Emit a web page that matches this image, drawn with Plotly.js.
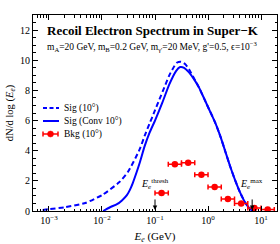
<!DOCTYPE html>
<html><head><meta charset="utf-8">
<script src="https://cdn.plot.ly/plotly-3.0.1.min.js"></script>
<style>html,body{margin:0;padding:0;background:#fff;}#chart{width:280px;height:244px;}</style>
</head><body><div id="chart"></div>
<script>
// Signal (10°) dashed
const sigE = [0.00076, 0.001, 0.002, 0.005, 0.0105, 0.021, 0.031, 0.0515, 0.064, 0.079, 0.098, 0.121, 0.150, 0.186, 0.231, 0.262, 0.311, 0.369, 0.438, 0.543, 0.673, 0.834, 1.03, 1.39, 1.73, 2.14, 2.65, 3.28, 4.06, 5.04, 5.98, 7.1];
const sigVal = [0.07, 0.12, 0.25, 0.55, 1.1, 1.9, 2.6, 4.1, 5.0, 5.8, 6.6, 7.4, 8.2, 9.0, 9.6, 9.85, 9.9, 9.75, 9.4, 8.8, 8.2, 7.5, 6.8, 5.8, 4.9, 3.9, 2.9, 2.0, 1.2, 0.55, 0.2, 0.0];
// Signal convolved (10°) solid
const convE = [0.0105, 0.0142, 0.0192, 0.0238, 0.0295, 0.0336, 0.0381, 0.0453, 0.0515, 0.0638, 0.079, 0.1, 0.138, 0.186, 0.251, 0.298, 0.354, 0.438, 0.543, 0.673, 0.834, 1.03, 1.39, 1.73, 2.14, 2.65, 3.28, 4.06, 5.04, 5.98, 7.1];
const convVal = [0.0, 0.25, 0.45, 0.7, 1.05, 1.4, 1.85, 2.6, 3.2, 4.3, 5.2, 6.0, 7.2, 8.4, 9.3, 9.55, 9.5, 9.2, 8.75, 8.2, 7.5, 6.8, 5.8, 4.9, 3.9, 2.9, 2.0, 1.2, 0.55, 0.2, 0.0];
// Background (10°) binned
const bkgE = [0.133, 0.237, 0.422, 0.750, 1.334, 2.371, 4.217, 7.499, 13.34];
const bkgLow = [0.1, 0.178, 0.316, 0.562, 1.0, 1.778, 3.162, 5.623, 10];
const bkgHigh = [0.178, 0.316, 0.562, 1.0, 1.778, 3.162, 5.623, 10, 17.78];
const bkgVal = [1.2, 3.1, 3.2, 2.4, 1.6, 0.8, 0.5, 0.2, 0.1];
const xTickVals = [0.001, 0.01, 0.1, 1, 10];
const xTickText = ['10<sup>−3</sup>', '10<sup>−2</sup>', '10<sup>−1</sup>', '10<sup>0</sup>', '10<sup>1</sup>'];
const eThresh = 0.1;
const eMax = 6.8;

const BLUE = '#0000ff', RED = '#ff0000';
const FONT = 'Liberation Serif, Times New Roman, serif';

const traces = [
  {x: sigE, y: sigVal, type: 'scatter', mode: 'lines', line: {color: BLUE, width: 2, dash: '5px,3px', shape: 'spline', smoothing: 0.6}, hoverinfo: 'skip'},
  {x: convE, y: convVal, type: 'scatter', mode: 'lines', line: {color: BLUE, width: 2, shape: 'spline', smoothing: 0.6}, hoverinfo: 'skip'},
  {x: bkgE, y: bkgVal, type: 'scatter', mode: 'markers',
   marker: {color: RED, size: 6.5},
   error_x: {type: 'data', symmetric: false,
     array: bkgE.map((e, i) => bkgHigh[i] - e),
     arrayminus: bkgE.map((e, i) => e - bkgLow[i]),
     color: RED, thickness: 1.5, width: 2.5},
   hoverinfo: 'skip'}
];

const axCommon = {
  ticks: 'inside', tickcolor: 'black', tickwidth: 1, ticklen: 5,
  showline: true, linecolor: 'black', linewidth: 1, mirror: 'allticks',
  showgrid: false, zeroline: false, tickfont: {family: FONT, size: 10, color: 'black'}
};

const px2paperX = p => (p - 33) / 244;
const px2paperY = p => (211 - p) / 196;

const legendRows = [
  {y: 108, text: 'Sig (10°)'},
  {y: 121, text: 'Sig (Conv 10°)'},
  {y: 134, text: 'Bkg (10°)'}
];

const shapes = [
  {type: 'line', xref: 'paper', yref: 'paper', x0: px2paperX(43), x1: px2paperX(59), y0: px2paperY(108), y1: px2paperY(108), line: {color: BLUE, width: 2, dash: '4px,2.5px'}},
  {type: 'line', xref: 'paper', yref: 'paper', x0: px2paperX(43), x1: px2paperX(59), y0: px2paperY(121), y1: px2paperY(121), line: {color: BLUE, width: 2}},
  {type: 'line', xref: 'paper', yref: 'paper', x0: px2paperX(43), x1: px2paperX(58), y0: px2paperY(134), y1: px2paperY(134), line: {color: RED, width: 1.5}},
  {type: 'line', xref: 'paper', yref: 'paper', x0: px2paperX(43), x1: px2paperX(43), y0: px2paperY(131.5), y1: px2paperY(136.5), line: {color: RED, width: 1.5}},
  {type: 'line', xref: 'paper', yref: 'paper', x0: px2paperX(58), x1: px2paperX(58), y0: px2paperY(131.5), y1: px2paperY(136.5), line: {color: RED, width: 1.5}},
  {type: 'circle', xref: 'paper', yref: 'paper', x0: px2paperX(47.5), x1: px2paperX(53.5), y0: px2paperY(131), y1: px2paperY(137), fillcolor: RED, line: {color: RED, width: 0.5}}
];

const annotations = [
  {xref: 'paper', yref: 'paper', x: px2paperX(45), y: px2paperY(31), xanchor: 'left', yanchor: 'middle', showarrow: false,
   text: '<b>Recoil Electron Spectrum in Super−K</b>', font: {family: FONT, size: 13, color: 'black'}},
  {xref: 'paper', yref: 'paper', x: px2paperX(45), y: px2paperY(47), xanchor: 'left', yanchor: 'middle', showarrow: false,
   text: "m<sub>A</sub>=20 GeV, m<sub>B</sub>=0.2 GeV, m<sub>γ'</sub>=20 MeV, g'=0.5, ϵ=10<sup>−3</sup>", font: {family: FONT, size: 9.5, color: 'black'}},
  {xref: 'x', yref: 'y', x: Math.log10(eThresh), y: 0.07, ax: 0, ay: -12, showarrow: true, arrowhead: 2, arrowsize: 0.9, arrowwidth: 1, arrowcolor: 'black', text: ''},
  {xref: 'x', yref: 'y', x: Math.log10(eMax), y: 0.07, ax: 0, ay: -12, showarrow: true, arrowhead: 2, arrowsize: 0.9, arrowwidth: 1, arrowcolor: 'black', text: ''},
  {xref: 'x', yref: 'y', x: Math.log10(eThresh), y: 1.8, showarrow: false, xanchor: 'center', yanchor: 'middle',
   text: '<i>E</i><sub><i>e</i></sub><sup>thresh</sup>', font: {family: FONT, size: 10, color: 'black'}},
  {xref: 'x', yref: 'y', x: Math.log10(eMax) - 0.02, y: 1.8, showarrow: false, xanchor: 'center', yanchor: 'middle',
   text: '<i>E</i><sub><i>e</i></sub><sup>max</sup>', font: {family: FONT, size: 10, color: 'black'}}
];
legendRows.forEach(r => annotations.push({xref: 'paper', yref: 'paper', x: px2paperX(62), y: px2paperY(r.y), xanchor: 'left', yanchor: 'middle', showarrow: false,
  text: r.text, font: {family: FONT, size: 9.5, color: 'black'}}));

const layout = {
  width: 280, height: 244,
  margin: {l: 33, r: 3, t: 15, b: 33},
  paper_bgcolor: 'white', plot_bgcolor: 'white',
  showlegend: false,
  font: {family: FONT, size: 10, color: 'black'},
  xaxis: Object.assign({}, axCommon, {
    type: 'log', range: [Math.log10(5e-4), Math.log10(20)],
    tickmode: 'array', tickvals: xTickVals, ticktext: xTickText,
    minor: {ticks: 'inside', ticklen: 2.5, dtick: 'D1', tickcolor: 'black', tickwidth: 1, showgrid: false},
    title: {text: '<i>E</i><sub><i>e</i></sub> (GeV)', font: {family: FONT, size: 11, color: 'black'}, standoff: 7}
  }),
  yaxis: Object.assign({}, axCommon, {
    range: [0, 13], tick0: 0, dtick: 2,
    minor: {ticks: 'inside', ticklen: 2.5, dtick: 0.5, tickcolor: 'black', tickwidth: 1, showgrid: false},
    title: {text: 'dN/d log (<i>E</i><sub><i>e</i></sub>)', font: {family: FONT, size: 10.5, color: 'black'}, standoff: 4}
  }),
  shapes: shapes,
  annotations: annotations
};

Plotly.newPlot('chart', traces, layout, {staticPlot: true, displayModeBar: false});
</script>
</body></html>
